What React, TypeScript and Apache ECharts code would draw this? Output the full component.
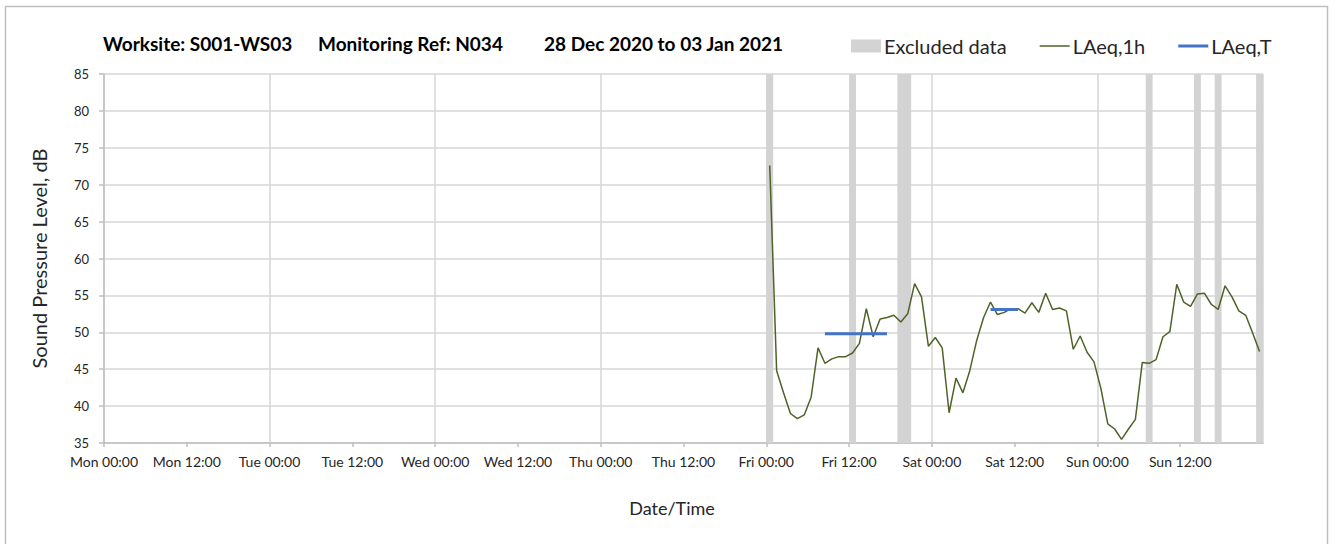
import React, { useEffect, useRef } from "react";
import * as echarts from "echarts";

const days = ["Mon", "Tue", "Wed", "Thu", "Fri", "Sat", "Sun"];
const yTicks = [35, 40, 45, 50, 55, 60, 65, 70, 75, 80, 85];

// Hourly LAeq,1h values, first value at Fri 00:30 (one per hour)
const firstReading = "Fri 00:30";
const laeq1h = [
  // Fri
  72.6, 44.8, 41.8, 39.0, 38.3, 38.8, 41.2, 47.9, 45.8, 46.4, 46.7, 46.7,
  47.2, 48.5, 53.2, 49.4, 51.8, 52.0, 52.3, 51.4, 52.5, 56.6, 54.8, 48.1,
  // Sat
  49.3, 47.9, 39.1, 43.8, 41.8, 44.8, 48.9, 52.0, 54.1, 52.4, 52.7, 53.2,
  53.2, 52.6, 54.0, 52.7, 55.3, 53.1, 53.3, 52.9, 47.7, 49.5, 47.3, 46.0,
  // Sun
  42.4, 37.6, 36.9, 35.5, 36.9, 38.2, 45.9, 45.8, 46.3, 49.4, 50.1, 56.5,
  54.1, 53.5, 55.2, 55.3, 53.8, 53.1, 56.3, 54.8, 52.9, 52.3, 49.9, 47.4,
];

// LAeq,T periods
const laeqTFrom = ["Fri 08:30", "Sat 08:30"];
const laeqTTo = ["Fri 17:30", "Sat 12:30"];
const laeqTValues = [49.8, 53.1];

// Excluded data periods
const excludedFrom = ["Fri 00:00", "Fri 12:00", "Fri 19:00", "Sun 07:00", "Sun 14:00", "Sun 17:00", "Sun 23:00"];
const excludedTo = ["Fri 01:00", "Fri 13:00", "Fri 21:00", "Sun 08:00", "Sun 15:00", "Sun 18:00", "Sun 24:00"];

function toHours(s: string): number {
  const [d, t] = s.split(" ");
  const [h, m] = t.split(":").map(Number);
  return days.indexOf(d) * 24 + h + m / 60;
}

function tickLabel(v: number): string {
  if (v >= 168) return "";
  const d = days[Math.floor(v / 24)];
  const h = v % 24;
  return `${d} ${h < 10 ? "0" + h : h}:00`;
}

const FONT = "Lato";
const GREEN = "#4f6228";
const BLUE = "#4472c4";
const GREY = "#d3d3d3";

export default function App() {
  const ref = useRef<HTMLDivElement>(null);
  useEffect(() => {
    if (!ref.current) return;
    const chart = echarts.init(ref.current, null, { renderer: "svg" });
    const start = toHours(firstReading);
    const lineData = laeq1h.map((v, i) => [start + i, v]);
    const tData: any[] = [];
    laeqTValues.forEach((v, i) => {
      if (i > 0) tData.push([(toHours(laeqTTo[i - 1]) + toHours(laeqTFrom[i])) / 2, "-"]);
      tData.push([toHours(laeqTFrom[i]), v]);
      tData.push([toHours(laeqTTo[i]), v]);
    });
    const areas = excludedFrom.map((f, i) => [{ xAxis: toHours(f) }, { xAxis: toHours(excludedTo[i]) }]);

    chart.setOption({
      animation: false,
      textStyle: { fontFamily: FONT },
      grid: { left: 104, right: 73, top: 74, bottom: 101, containLabel: false },
      legend: {
        left: 846,
        top: 31,
        itemWidth: 30,
        itemHeight: 13,
        itemGap: 33,
        symbolKeepAspect: true,
        textStyle: { fontFamily: FONT, fontSize: 20, color: "#262626", padding: [0, 0, 0, -2] },
        data: [
          { name: "Excluded data", icon: "rect", itemStyle: { color: GREY } },
          { name: "LAeq,1h", icon: "path://M0,0h30v1.5h-30z", itemStyle: { color: GREEN, borderWidth: 0 } },
          { name: "LAeq,T", icon: "path://M0,0h30v3h-30z", itemStyle: { color: BLUE, borderWidth: 0 } },
        ],
      },
      xAxis: [
        {
          type: "value",
          min: 0,
          max: 168,
          interval: 12,
          axisLine: { show: true, lineStyle: { color: "#bfbfbf", width: 1.5 } },
          axisTick: { show: true, length: 4, lineStyle: { color: "#bfbfbf", width: 1.5 } },
          splitLine: { show: false },
          axisLabel: {
            formatter: (v: number) => tickLabel(v),
            fontFamily: FONT,
            fontSize: 14,
            color: "#262626",
            margin: 11,
            showMaxLabel: false,
          },
        },
        {
          type: "value",
          min: 0,
          max: 168,
          interval: 24,
          position: "bottom",
          axisLine: { show: false },
          axisTick: { show: false },
          axisLabel: { show: false },
          splitLine: { show: true, lineStyle: { color: "#d6d6d6", width: 1.5 } },
        },
      ],
      yAxis: {
        type: "value",
        min: yTicks[0],
        max: yTicks[yTicks.length - 1],
        interval: 5,
        name: "Sound Pressure Level, dB",
        nameLocation: "middle",
        nameGap: 55,
        nameTextStyle: { fontFamily: FONT, fontSize: 20, color: "#262626" },
        axisLine: { show: true, lineStyle: { color: "#bfbfbf", width: 1.5 } },
        axisTick: { show: true, length: 5, lineStyle: { color: "#bfbfbf", width: 1.5 } },
        splitLine: { show: true, lineStyle: { color: "#d6d6d6", width: 1.5 } },
        axisLabel: { fontFamily: FONT, fontSize: 13, color: "#262626", margin: 15 },
      },
      graphic: [
        {
          type: "rect",
          silent: true,
          shape: { x: 5.5, y: 6.5, width: 1322, height: 560 },
          style: { fill: "none", stroke: "#bfbfbf", lineWidth: 1.5 },
        },
        {
          type: "text",
          x: 103,
          y: 43,
          style: { text: "Worksite: S001-WS03", font: `bold 19px ${FONT}`, fill: "#000", textVerticalAlign: "middle" },
        },
        {
          type: "text",
          x: 318,
          y: 43,
          style: { text: "Monitoring Ref: N034", font: `bold 19px ${FONT}`, fill: "#000", textVerticalAlign: "middle" },
        },
        {
          type: "text",
          x: 544,
          y: 43,
          style: { text: "28 Dec 2020 to 03 Jan 2021", font: `bold 19px ${FONT}`, fill: "#000", textVerticalAlign: "middle" },
        },
        {
          type: "text",
          x: 672,
          y: 508,
          style: { text: "Date/Time", font: `18px ${FONT}`, fill: "#262626", textAlign: "center", textVerticalAlign: "middle" },
        },
      ],
      series: [
        {
          name: "Excluded data",
          type: "line",
          data: [],
          itemStyle: { color: GREY },
          markArea: {
            silent: true,
            itemStyle: { color: GREY, opacity: 1 },
            data: areas,
          },
          z: 1,
        },
        {
          name: "LAeq,1h",
          type: "line",
          data: lineData,
          symbol: "none",
          lineStyle: { color: GREEN, width: 1.5 },
          itemStyle: { color: GREEN },
          z: 3,
        },
        {
          name: "LAeq,T",
          type: "line",
          data: tData,
          symbol: "none",
          connectNulls: false,
          lineStyle: { color: BLUE, width: 3 },
          itemStyle: { color: BLUE },
          z: 4,
        },
      ],
    });
    return () => chart.dispose();
  }, []);
  return <div ref={ref} style={{ position: "absolute", left: 0, top: 0, width: 1336, height: 544 }} />;
}
